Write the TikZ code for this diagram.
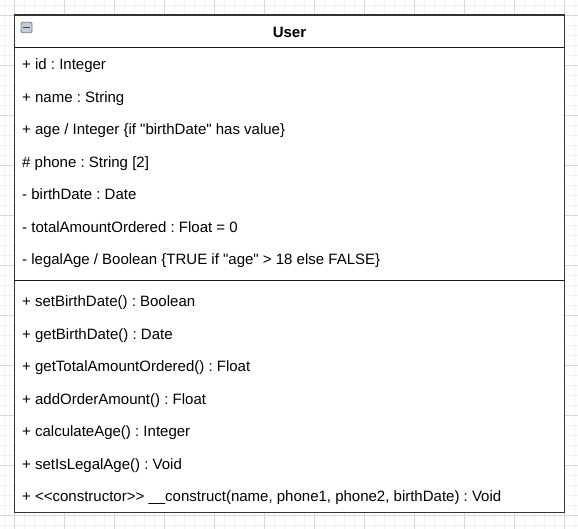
\documentclass[tikz,border=0pt]{standalone}
\usepackage{fontspec}
\setmainfont{Liberation Sans}
\frenchspacing
\begin{document}
\begin{tikzpicture}[x=1pt,y=-1pt,
  row/.style={anchor=base west,inner sep=0pt,font=\fontsize{15}{16}\selectfont},
  title/.style={anchor=base,inner sep=0pt,font=\fontsize{15}{16}\selectfont\bfseries},
  minorgrid/.style={draw=black!5,line width=0.8pt},
  majorgrid/.style={draw=black!15,line width=0.8pt},
  frame/.style={draw=black!80,line width=1.6pt},
  divider/.style={draw=black!90,line width=1.1pt}]
\useasboundingbox (0,0) rectangle (578,529);
\fill[white] (0,0) rectangle (578,529);
% grid
\foreach \x in {4,14,...,574} \draw[minorgrid] (\x,0) -- (\x,529);
\foreach \y in {5,15,...,525} \draw[minorgrid] (0,\y) -- (578,\y);
\foreach \x in {14,64,...,564} \draw[majorgrid] (\x,0) -- (\x,529);
\foreach \y in {15,65,...,515} \draw[majorgrid] (0,\y) -- (578,\y);
% class box
\fill[white] (14.5,15) rectangle (564.5,512.5);
\coordinate (tl) at (14.5,15);
\coordinate (br) at (564.5,512.5);
\draw[divider] (14.5,47.5) -- (564.5,47.5);
\draw[divider] (14.5,280.5) -- (564.5,280.5);
\draw[frame] (tl) rectangle (br);
% collapse icon
\node[draw=black!50,fill={rgb,255:red,196;green,204;blue,214},rounded corners=1.2pt,minimum width=11pt,minimum height=10.5pt,inner sep=0pt,line width=0.8pt] (icon) at (26.5,27.5) {};
\draw[black!75,line width=1.3pt] ([xshift=2.5pt]icon.west) -- ([xshift=-2.5pt]icon.east);
\node[title] (name) at (289.5,37.5) {User};
% attributes
\node[row] (a1) at (22,70) {+ id : Integer};
\node[row] (a2) at (22,102.5) {+ name : String};
\node[row] (a3) at (22,135) {+ age / Integer \{if \textquotedbl birthDate\textquotedbl\ has value\}};
\node[row] (a4) at (22,167.5) {\# phone : String [2]};
\node[row] (a5) at (22,200) {- birthDate : Date};
\node[row] (a6) at (22,232.5) {- totalAmountOrdered : Float = 0};
\node[row] (a7) at (22,265) {- legalAge / Boolean \{TRUE if \textquotedbl age\textquotedbl\ > 18 else FALSE\}};
% methods
\node[row] (m1) at (22,306.5) {+ setBirthDate() : Boolean};
\node[row] (m2) at (22,339) {+ getBirthDate() : Date};
\node[row] (m3) at (22,371.5) {+ getTotalAmountOrdered() : Float};
\node[row] (m4) at (22,404) {+ addOrderAmount() : Float};
\node[row] (m5) at (22,436.5) {+ calculateAge() : Integer};
\node[row] (m6) at (22,469) {+ setIsLegalAge() : Void};
\node[row] (m7) at (22,501.5) {+ <{}<constructor>{}> \_\_construct(name, phone1, phone2, birthDate) : Void};
\end{tikzpicture}
\end{document}
